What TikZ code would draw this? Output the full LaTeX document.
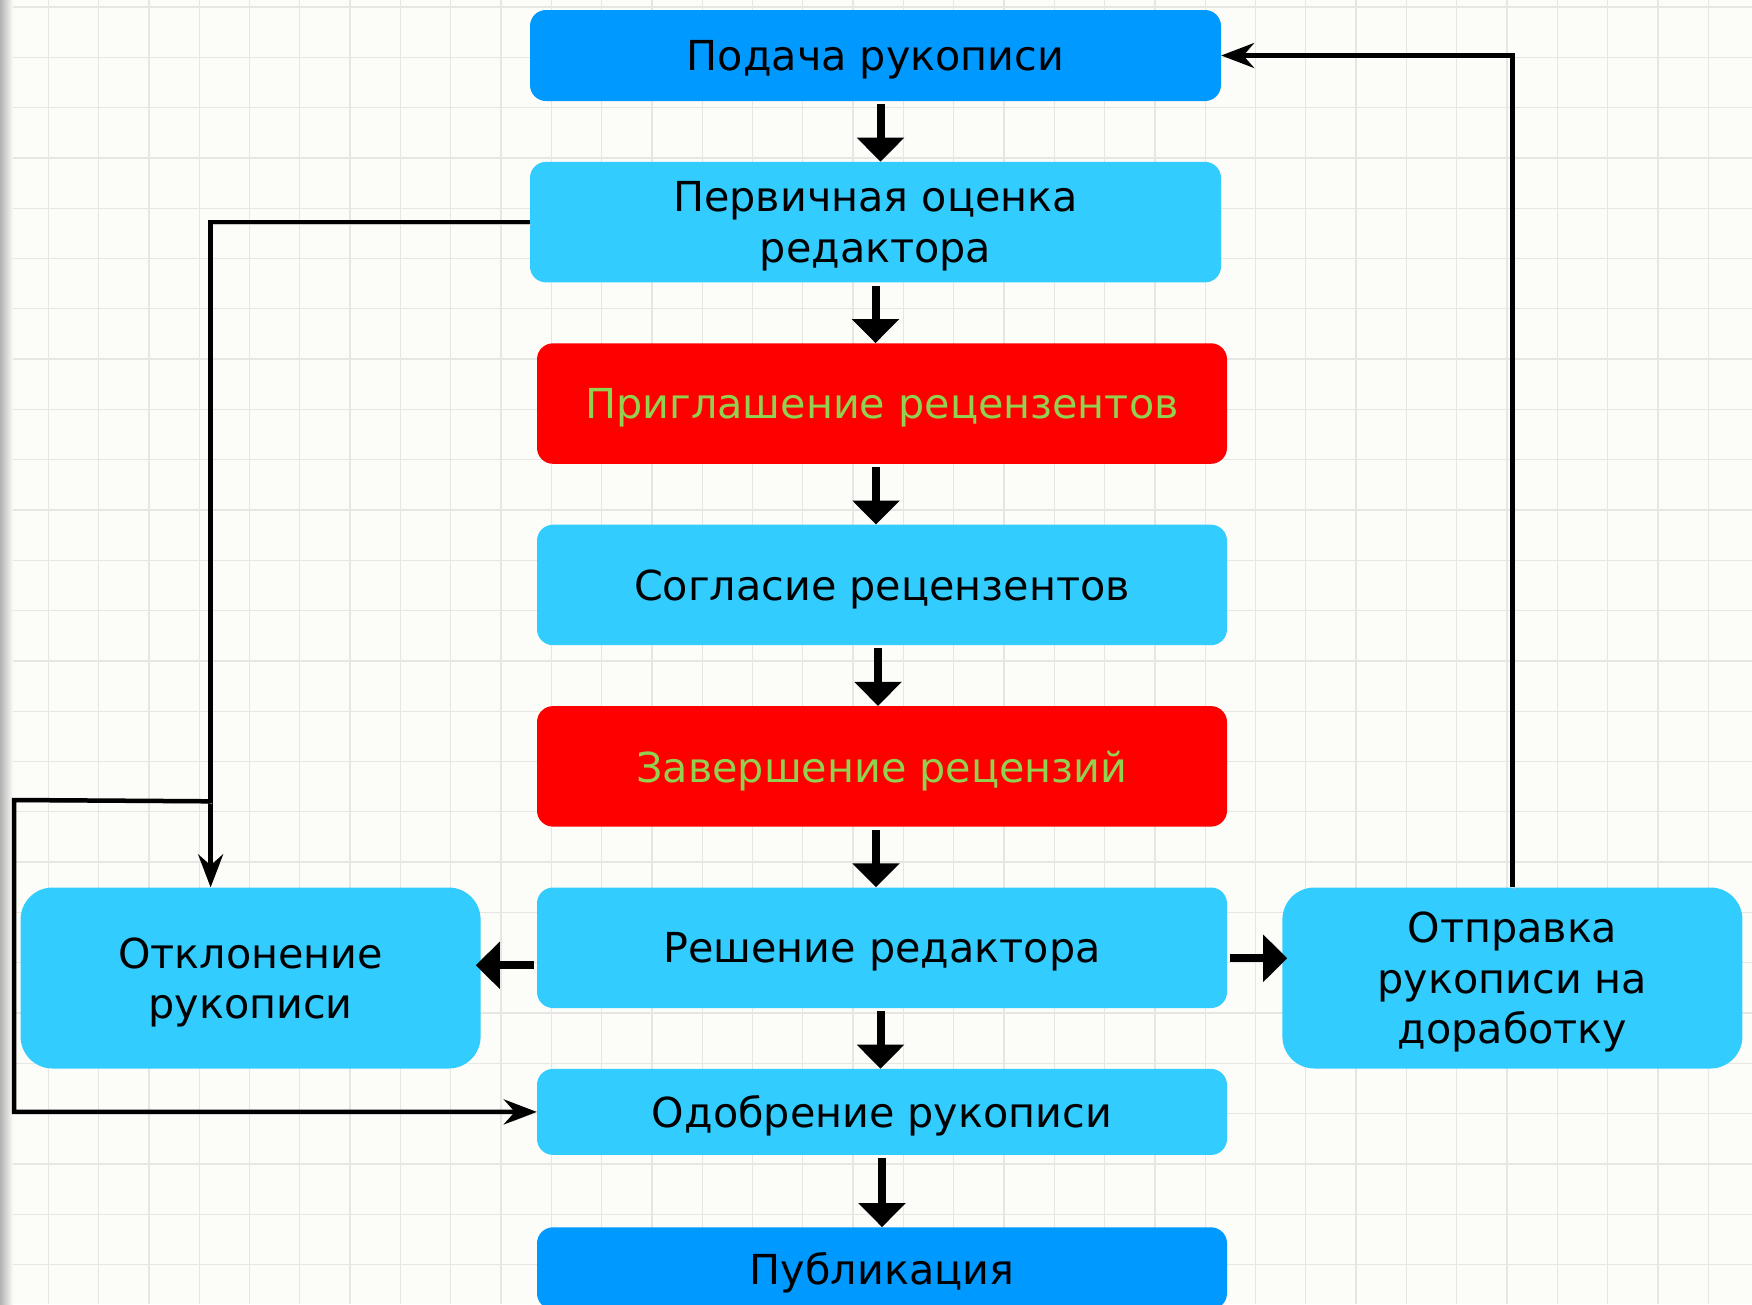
\documentclass[tikz,border=0pt]{standalone}
\usepackage{fontspec}
\setmainfont{DejaVu Sans}
\usetikzlibrary{positioning,arrows.meta}
\definecolor{deepblue}{HTML}{0099FF}
\definecolor{skyblue}{HTML}{33CCFF}
\definecolor{alertred}{HTML}{FF0000}
\definecolor{softgreen}{HTML}{92D050}
\definecolor{paper}{HTML}{FCFCF8}
\definecolor{gridgray}{HTML}{E6E6E2}
\begin{document}
\begin{tikzpicture}[
    x=1pt, y=-1pt,
    every node/.style={font=\fontsize{41.3}{50.5}\selectfont, align=center, inner sep=0pt, text depth=0pt},
    stage/.style={rounded corners=16pt, fill=skyblue, minimum width=690pt, minimum height=120.5pt},
    endpoint/.style={stage, fill=deepblue},
    alert/.style={stage, fill=alertred, text=softgreen},
    outcome/.style={stage, rounded corners=32pt, minimum width=460pt, minimum height=181pt},
    gridline/.style={draw=gridgray, line width=1.3pt},
    flow/.style={draw, line width=8pt, -{Triangle[width=46pt,length=24pt]}, shorten <=3pt},
    link/.style={draw, line width=4.5pt, -{Stealth[width=25pt,length=33pt,inset=11pt]},
        preaction={draw=black!22, transform canvas={xshift=1.5pt,yshift=-2pt}}}
]
\useasboundingbox (0,0) rectangle (1752,1304);
\fill[paper] (0,0) rectangle (1752,1304);
\foreach \gx in {0,...,33} \draw[gridline] ({48.3+50.3*\gx},0) -- ({48.3+50.3*\gx},1304);
\foreach \gy in {0,...,25} \draw[gridline] (0,{7+50.3*\gy}) -- (1752,{7+50.3*\gy});
\shade[left color=black!30, right color=paper] (0,0) rectangle (13,1304);

\node[endpoint, minimum width=691pt, minimum height=91pt] (submit) at (875.5,55.5) {Подача рукописи};
\node[stage, minimum width=691pt] (screen) [below=60.5pt of submit] {Первичная оценка\\ редактора};
\node[alert] (invite) [below=60.5pt of screen, xshift=6.5pt] {Приглашение рецензентов};
\node[stage] (agree) [below=60.5pt of invite] {Согласие рецензентов};
\node[alert] (review) [below=60.5pt of agree] {Завершение рецензий};
\node[stage] (decision) [below=60.5pt of review] {Решение редактора};
\node[stage, minimum height=86pt] (accept) [below=60.5pt of decision] {Одобрение рукописи};
\node[endpoint, minimum height=82pt] (publish) [below=72pt of accept] {Публикация};
\node[outcome, anchor=north east] (reject) at ([xshift=-56pt]decision.north west) {Отклонение\\ рукописи};
\node[outcome, anchor=north west] (revise) at ([xshift=55pt]decision.north east) {Отправка\\ рукописи на\\ доработку};
\coordinate (fork) at ([xshift=-40pt,yshift=86pt]reject.north);
\coordinate (detour) at (14,800);

\draw[flow] ([xshift=5pt]submit.south) -- ([xshift=5pt]screen.north);
\draw[flow] (screen.south) -- (screen.south |- invite.north);
\draw[flow] ([xshift=-6pt]invite.south) -- ([xshift=-6pt]agree.north);
\draw[flow] ([xshift=-4pt]agree.south) -- ([xshift=-4pt]review.north);
\draw[flow] ([xshift=-6pt]review.south) -- ([xshift=-6pt]decision.north);
\draw[flow] ([xshift=-1.5pt]decision.south) -- ([xshift=-1.5pt]accept.north);
\draw[flow] (accept.south) -- (publish.north);
\draw[flow, shorten >=-5pt] ([yshift=-17.5pt]decision.west) -- ([yshift=-17.5pt]decision.west -| reject.east);
\draw[flow, shorten >=-5pt] ([yshift=-10.5pt]decision.east) -- ([yshift=-10.5pt]decision.east -| revise.west);
\draw[link] (screen.west) -| ([xshift=-40pt]reject.north);
\draw[link] (fork) -- (detour) |- (accept.west);
\draw[link] (revise.north) |- (submit.east);
\end{tikzpicture}
\end{document}
